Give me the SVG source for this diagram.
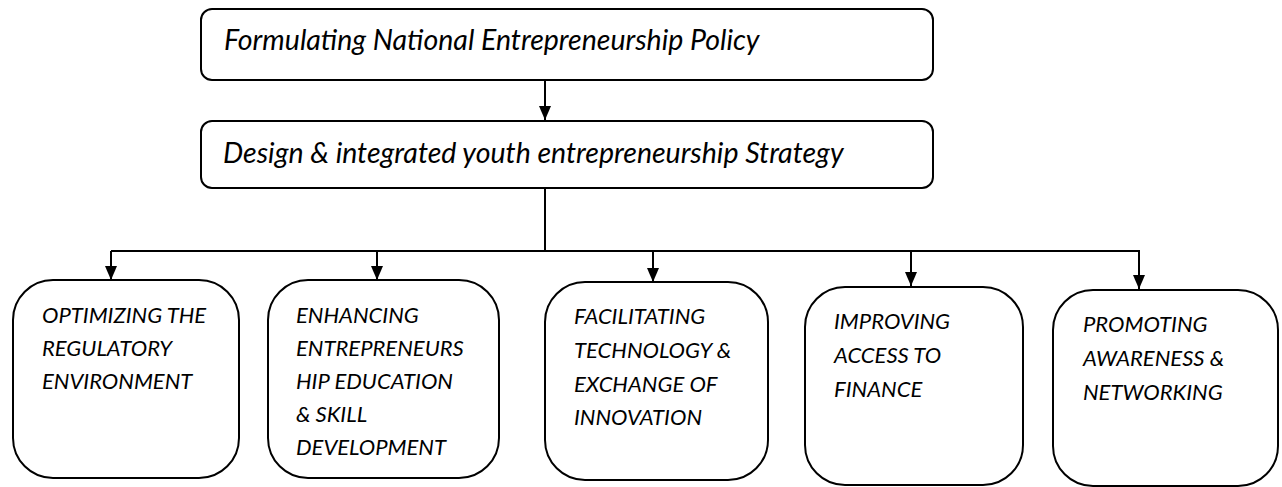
<svg xmlns="http://www.w3.org/2000/svg" width="1282" height="487" viewBox="0 0 1282 487">
<style>
.box{fill:#fff;stroke:#000;stroke-width:2}
.t{font-family:Lato,"Liberation Sans",sans-serif;font-style:italic;fill:#000}
.top{font-size:28.5px}
.lbl{font-size:22px}
.c{fill:none;stroke:#000;stroke-width:2}
</style>
<defs>
<marker id="ah" markerUnits="userSpaceOnUse" markerWidth="16" markerHeight="14" refX="15" refY="7" orient="auto" viewBox="0 0 16 14">
<path d="M1,1 L15,7 L1,13 Z" fill="#000"/>
</marker>
</defs>
<g id="connectors">
<line class="c" x1="545" y1="80" x2="545" y2="120" marker-end="url(#ah)"/>
<polyline class="c" points="545,188 545,251"/>
<polyline class="c" points="111,251 1139,251"/>
<line class="c" x1="111" y1="251" x2="111" y2="280" marker-end="url(#ah)"/>
<line class="c" x1="377" y1="251" x2="377" y2="280" marker-end="url(#ah)"/>
<line class="c" x1="653" y1="251" x2="653" y2="282" marker-end="url(#ah)"/>
<line class="c" x1="911" y1="251" x2="911" y2="286" marker-end="url(#ah)"/>
<line class="c" x1="1139" y1="250" x2="1139" y2="289" marker-end="url(#ah)"/>
</g>
<g id="policy">
<rect class="box" x="201" y="9" width="732" height="71" rx="11"/>
<text class="t top" x="224" y="50">Formulating National Entrepreneurship Policy</text>
</g>
<g id="strategy">
<rect class="box" x="201" y="121" width="732" height="67" rx="11"/>
<text class="t top" x="223" y="163">Design &amp; integrated youth entrepreneurship Strategy</text>
</g>
<g id="regulatory">
<rect class="box" x="13" y="280" width="226" height="198" rx="40"/>
<text class="t lbl" x="42" y="323">OPTIMIZING THE</text>
<text class="t lbl" x="42" y="356">REGULATORY</text>
<text class="t lbl" x="42" y="389">ENVIRONMENT</text>
</g>
<g id="education">
<rect class="box" x="268" y="280" width="231" height="198" rx="40"/>
<text class="t lbl" x="296" y="323">ENHANCING</text>
<text class="t lbl" x="296" y="356">ENTREPRENEURS</text>
<text class="t lbl" x="296" y="389">HIP EDUCATION</text>
<text class="t lbl" x="296" y="422">&amp; SKILL</text>
<text class="t lbl" x="296" y="455">DEVELOPMENT</text>
</g>
<g id="technology">
<rect class="box" x="545" y="282" width="223" height="198" rx="40"/>
<text class="t lbl" x="574" y="324">FACILITATING</text>
<text class="t lbl" x="574" y="358">TECHNOLOGY &amp;</text>
<text class="t lbl" x="574" y="392">EXCHANGE OF</text>
<text class="t lbl" x="574" y="425">INNOVATION</text>
</g>
<g id="finance">
<rect class="box" x="805" y="287" width="218" height="198" rx="40"/>
<text class="t lbl" x="834" y="329">IMPROVING</text>
<text class="t lbl" x="834" y="363">ACCESS TO</text>
<text class="t lbl" x="834" y="397">FINANCE</text>
</g>
<g id="awareness">
<rect class="box" x="1053" y="290" width="225" height="196" rx="40"/>
<text class="t lbl" x="1083" y="332">PROMOTING</text>
<text class="t lbl" x="1083" y="366">AWARENESS &amp;</text>
<text class="t lbl" x="1083" y="400">NETWORKING</text>
</g>
</svg>
